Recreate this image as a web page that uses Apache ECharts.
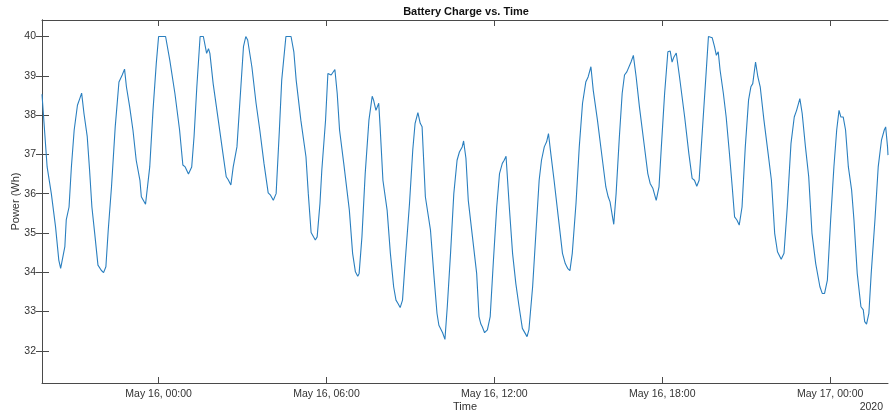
<!DOCTYPE html>
<html>
<head>
<meta charset="utf-8">
<script src="https://cdn.jsdelivr.net/npm/echarts@6/dist/echarts.min.js"></script>
<style>
  html, body { margin: 0; padding: 0; background: #fff; }
  #chart { width: 889px; height: 414px; }
</style>
</head>
<body>
<div id="chart"></div>
<script>
// Battery charge log, sampled at irregular instants.
// Times are minutes after 2020-05-15 19:50 (local time).
const startYear = 2020, startMonth = 4, startDay = 15, startHour = 19, startMinute = 50;
const spanMinutes = 1814;

const minutesFromStart = [
  0, 11, 20, 29, 36, 40, 44, 49, 52, 58, 63, 69, 76, 81, 85, 90, 97, 102, 107, 113,
  120, 124, 127, 132, 137, 142, 149, 157, 165, 172, 177, 181, 188, 195, 202, 210, 213, 217, 222, 226,
  231, 238, 245, 250, 265, 274, 285, 295, 302, 307, 314, 321, 326, 332, 339, 346, 353, 357, 360, 367,
  378, 388, 395, 399, 405, 410, 418, 425, 432, 437, 441, 450, 459, 467, 476, 485, 490, 496, 502, 509,
  514, 523, 534, 540, 545, 555, 566, 571, 577, 581, 586, 590, 596, 600, 608, 613, 616, 620, 628, 633,
  638, 647, 659, 666, 672, 677, 680, 686, 693, 701, 708, 711, 716, 722, 725, 731, 740, 747, 754, 759,
  763, 768, 773, 779, 788, 795, 800, 806, 811, 815, 822, 833, 840, 847, 851, 854, 859, 864, 869, 876,
  883, 890, 895, 901, 904, 909, 914, 923, 932, 937, 941, 944, 949, 955, 961, 968, 975, 981, 987, 991,
  995, 1002, 1009, 1016, 1023, 1030, 1034, 1040, 1044, 1052, 1059, 1066, 1071, 1077, 1082, 1086, 1091, 1098, 1107, 1116,
  1122, 1127, 1132, 1137, 1145, 1152, 1159, 1166, 1171, 1177, 1182, 1191, 1199, 1209, 1214, 1218, 1222, 1226, 1231, 1238,
  1244, 1249, 1254, 1258, 1263, 1268, 1274, 1281, 1290, 1299, 1304, 1310, 1317, 1323, 1328, 1335, 1342, 1347, 1351, 1355,
  1360, 1367, 1378, 1387, 1394, 1399, 1404, 1409, 1416, 1423, 1429, 1437, 1442, 1446, 1450, 1454, 1461, 1467, 1474, 1480,
  1485, 1490, 1495, 1501, 1508, 1515, 1520, 1524, 1530, 1535, 1540, 1548, 1557, 1564, 1571, 1577, 1580, 1585, 1591, 1598,
  1606, 1613, 1618, 1625, 1630, 1637, 1644, 1651, 1659, 1668, 1673, 1678, 1684, 1691, 1698, 1704, 1709, 1713, 1718, 1723,
  1729, 1736, 1741, 1748, 1756, 1761, 1764, 1768, 1773, 1778, 1786, 1793, 1800, 1806, 1809, 1813, 1814
];

const chargeWh = [
  38.53, 36.68, 36.00, 35.16, 34.31, 34.10, 34.14, 34.65, 35.33, 35.66, 36.68, 37.62, 38.25, 38.42, 38.56, 38.04, 37.45, 36.60, 35.66, 34.99,
  34.18, 34.15, 34.05, 33.99, 34.14, 35.07, 36.17, 37.70, 38.84, 39.02, 39.17, 38.72, 38.21, 37.62, 36.85, 36.34, 35.92, 35.88, 35.73, 35.77,
  36.68, 38.12, 39.31, 40.00, 40.00, 39.40, 38.55, 37.62, 36.73, 36.68, 36.50, 36.68, 37.45, 38.72, 40.00, 40.00, 39.57, 39.69, 39.57, 38.80,
  37.87, 37.02, 36.43, 36.36, 36.22, 36.68, 37.19, 38.46, 39.74, 40.00, 39.91, 39.23, 38.30, 37.62, 36.77, 36.02, 35.96, 35.83, 36.00, 37.62,
  38.89, 40.00, 40.00, 39.61, 38.89, 37.87, 36.94, 36.00, 35.01, 34.99, 34.82, 34.90, 35.75, 36.60, 37.87, 39.06, 39.10, 39.02, 39.16, 38.55,
  37.62, 36.77, 35.58, 34.48, 34.01, 33.90, 33.97, 34.90, 36.51, 37.87, 38.48, 38.38, 38.12, 38.30, 37.70, 36.34, 35.58, 34.48, 33.63, 33.29,
  33.21, 33.10, 33.29, 34.31, 35.75, 37.11, 37.79, 38.06, 37.79, 37.70, 35.92, 35.07, 33.97, 32.95, 32.65, 32.61, 32.46, 32.29, 33.12, 34.48,
  36.00, 36.85, 37.06, 37.19, 37.34, 36.90, 35.83, 34.90, 33.97, 32.87, 32.68, 32.61, 32.46, 32.53, 32.87, 34.31, 35.66, 36.51, 36.77, 36.85,
  36.95, 35.66, 34.48, 33.71, 33.12, 32.57, 32.53, 32.36, 32.53, 33.63, 34.99, 36.34, 36.85, 37.19, 37.32, 37.53, 37.02, 36.34, 35.41, 34.48,
  34.22, 34.10, 34.04, 34.48, 35.75, 37.19, 38.30, 38.84, 38.97, 39.23, 38.63, 37.87, 37.11, 36.17, 35.92, 35.79, 35.50, 35.22, 36.00, 37.45,
  38.55, 39.02, 39.10, 39.14, 39.35, 39.52, 38.97, 38.21, 37.36, 36.51, 36.26, 36.13, 35.83, 36.17, 37.19, 38.55, 39.61, 39.63, 39.35, 39.48,
  39.58, 38.97, 37.95, 37.02, 36.39, 36.34, 36.19, 36.34, 37.62, 38.89, 40.00, 39.97, 39.74, 39.52, 39.61, 39.14, 38.55, 37.95, 37.02, 36.17,
  35.41, 35.33, 35.20, 35.66, 37.19, 38.38, 38.72, 38.80, 39.35, 38.97, 38.72, 37.87, 37.02, 36.34, 34.99, 34.52, 34.49, 34.33, 34.48, 35.66,
  37.28, 37.95, 38.12, 38.42, 38.04, 37.19, 36.43, 34.99, 34.22, 33.63, 33.46, 33.46, 33.80, 35.33, 36.68, 37.62, 38.12, 37.95, 37.95, 37.62,
  36.68, 36.09, 35.33, 33.97, 33.12, 33.04, 32.74, 32.68, 32.95, 33.97, 35.33, 36.68, 37.36, 37.62, 37.70, 37.19, 36.98
];

// Tick positions: hours after 2020-05-16 00:00, and charge levels.
const timeTickHours = [0, 6, 12, 18, 24];
const chargeTicks = [32, 33, 34, 35, 36, 37, 38, 39, 40];
const chargeMin = 31.18, chargeMax = 40.42;
const monthNames = ['Jan', 'Feb', 'Mar', 'Apr', 'May', 'Jun', 'Jul', 'Aug', 'Sep', 'Oct', 'Nov', 'Dec'];

const MIN = 60 * 1000;
const t0 = new Date(startYear, startMonth, startDay, startHour, startMinute).getTime();
const midnight = new Date(startYear, startMonth, startDay + 1, 0, 0).getTime();
const midnightOffset = Math.round((midnight - t0) / MIN);
const timeTicks = timeTickHours.map(h => midnightOffset + h * 60);

const seriesData = minutesFromStart.map((m, i) => [m, chargeWh[i]]);

const pad = n => (n < 10 ? '0' : '') + n;
const fmtTime = m => {
  const d = new Date(t0 + m * MIN);
  return monthNames[d.getMonth()] + ' ' + d.getDate() + ', ' + pad(d.getHours()) + ':' + pad(d.getMinutes());
};

const AXIS = '#4a4a4a';
const FONT = '"Liberation Sans", Arial, Helvetica, sans-serif';

const chart = echarts.init(document.getElementById('chart'), null, { renderer: 'canvas' });
chart.setOption({
  animation: false,
  backgroundColor: '#fff',
  title: {
    text: 'Battery Charge vs. Time',
    left: 466, top: 6, padding: 0, textAlign: 'center',
    textStyle: { fontFamily: FONT, fontSize: 11, fontWeight: 'bold', color: '#111' }
  },
  grid: { left: 42, right: 1, top: 20, bottom: 31, outerBoundsMode: 'none', containLabel: false },
  xAxis: [
    {
      type: 'value', min: 0, max: spanMinutes, position: 'bottom',
      name: 'Time', nameLocation: 'middle', nameGap: 18, nameMoveOverlap: false,
      nameTextStyle: { fontFamily: FONT, fontSize: 11, color: '#333' },
      axisLine: { show: true, lineStyle: { color: AXIS, width: 1 } },
      axisTick: { show: true, inside: true, length: 6, customValues: timeTicks, lineStyle: { color: AXIS } },
      axisLabel: {
        customValues: timeTicks, formatter: fmtTime, margin: 6,
        fontFamily: FONT, fontSize: 10.5, color: '#333', hideOverlap: false
      },
      splitLine: { show: false }
    },
    {
      type: 'value', min: 0, max: spanMinutes, position: 'top',
      axisLine: { show: true, lineStyle: { color: AXIS, width: 1 } },
      axisTick: { show: true, inside: true, length: 6, customValues: timeTicks, lineStyle: { color: AXIS } },
      axisLabel: { show: false },
      splitLine: { show: false }
    }
  ],
  yAxis: [
    {
      type: 'value', min: chargeMin, max: chargeMax, position: 'left',
      name: 'Power (Wh)', nameLocation: 'middle', nameGap: 21, nameRotate: 90, nameMoveOverlap: false,
      nameTextStyle: { fontFamily: FONT, fontSize: 11, color: '#333' },
      axisLine: { show: true, lineStyle: { color: AXIS, width: 1 } },
      axisTick: { show: true, inside: true, length: 7, customValues: chargeTicks, lineStyle: { color: AXIS } },
      axisLabel: { customValues: chargeTicks, margin: 6, fontFamily: FONT, fontSize: 10.5, color: '#333' },
      splitLine: { show: false }
    },
    {
      type: 'value', min: chargeMin, max: chargeMax, position: 'right',
      axisLine: { show: true, lineStyle: { color: AXIS, width: 1 } },
      axisTick: { show: true, inside: true, length: 6, customValues: chargeTicks, lineStyle: { color: AXIS } },
      axisLabel: { show: false },
      splitLine: { show: false }
    }
  ],
  graphic: [
    {
      type: 'text', right: 6, top: 402,
      style: { text: '2020', fontFamily: FONT, fontSize: 10.5, fill: '#333' }
    }
  ],
  series: [
    {
      type: 'line', xAxisIndex: 0, yAxisIndex: 0,
      data: seriesData, showSymbol: false, symbol: 'none',
      lineStyle: { color: '#2a7fbf', width: 1.1 },
      clip: true
    }
  ]
});
</script>
</body>
</html>
